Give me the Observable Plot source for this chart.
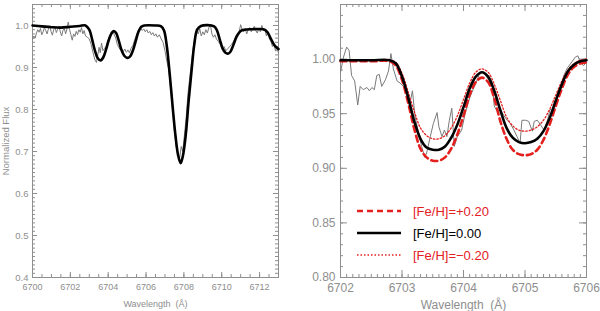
<!DOCTYPE html>
<html><head><meta charset="utf-8">
<script src="https://cdn.jsdelivr.net/npm/d3@7"></script>
<script src="https://cdn.jsdelivr.net/npm/@observablehq/plot@0.6"></script>
<style>
body{margin:0;background:#fff;}
#wrap{position:relative;width:600px;height:311px;display:flex;}
.leg{position:absolute;left:0;top:0;font-family:"Liberation Sans",Arial,sans-serif;font-size:13px;white-space:nowrap;line-height:1;}
</style></head><body><div id="wrap"></div>
<script>
// ---------- Left panel data ----------
const leftModelWl = [6700.0,6700.5,6701.0,6701.5,6702.0,6702.5,6702.8,6703.0,6703.15,6703.3,6703.45,6703.6,6703.75,6703.9,6704.05,6704.2,6704.3,6704.42,6704.55,6704.7,6704.85,6705.0,6705.15,6705.3,6705.45,6705.6,6705.75,6705.9,6706.5,6706.8,6706.95,6707.1,6707.25,6707.4,6707.55,6707.7,6707.83,6707.95,6708.1,6708.25,6708.4,6708.55,6708.7,6708.9,6709.6,6709.75,6709.9,6710.05,6710.2,6710.32,6710.45,6710.6,6710.8,6711.0,6711.2,6711.6,6712.2,6712.4,6712.6,6712.8,6713.0];
const leftModelFlux = [1.000,0.998,0.996,0.995,0.997,0.999,1.000,0.990,0.967,0.940,0.922,0.917,0.925,0.945,0.968,0.983,0.987,0.982,0.965,0.942,0.928,0.923,0.926,0.940,0.962,0.985,0.997,1.000,1.000,0.998,0.988,0.950,0.885,0.810,0.740,0.690,0.672,0.690,0.740,0.820,0.890,0.955,0.990,0.999,0.998,0.988,0.966,0.945,0.935,0.933,0.937,0.952,0.975,0.987,0.990,0.991,0.991,0.985,0.968,0.952,0.944];
const leftObsWl = [6700.00,6700.07,6700.14,6700.21,6700.28,6700.35,6700.42,6700.49,6700.56,6700.63,6700.70,6700.77,6700.84,6700.91,6700.98,6701.05,6701.12,6701.19,6701.26,6701.33,6701.40,6701.47,6701.54,6701.61,6701.68,6701.75,6701.82,6701.89,6701.96,6702.03,6702.10,6702.17,6702.24,6702.31,6702.38,6702.45,6702.52,6702.59,6702.66,6702.73,6702.80,6702.90,6703.00,6703.10,6703.20,6703.30,6703.38,6703.45,6703.52,6703.58,6703.65,6703.72,6703.80,6703.88,6703.96,6704.05,6704.15,6704.25,6704.32,6704.40,6704.48,6704.56,6704.64,6704.72,6704.80,6704.88,6704.96,6705.04,6705.12,6705.20,6705.30,6705.40,6705.50,6705.60,6705.70,6705.80,6705.88,6705.96,6706.04,6706.12,6706.20,6706.28,6706.36,6706.44,6706.52,6706.60,6706.70,6706.80,6706.90,6707.00,6707.10,6707.20,6707.30,6707.40,6707.50,6707.60,6707.70,6707.78,6707.86,6707.94,6708.02,6708.12,6708.22,6708.32,6708.42,6708.52,6708.60,6708.68,6708.76,6708.84,6708.92,6709.00,6709.08,6709.16,6709.24,6709.32,6709.40,6709.48,6709.56,6709.64,6709.72,6709.82,6709.92,6710.02,6710.12,6710.22,6710.32,6710.42,6710.52,6710.62,6710.72,6710.82,6710.92,6711.00,6711.08,6711.16,6711.24,6711.32,6711.40,6711.48,6711.56,6711.64,6711.72,6711.80,6711.88,6711.96,6712.04,6712.12,6712.20,6712.28,6712.36,6712.44,6712.52,6712.60,6712.68,6712.76,6712.84,6712.92,6713.00];
const leftObsFlux = [0.967,0.975,0.970,0.982,0.990,0.984,0.993,0.978,0.985,0.995,0.988,0.980,0.992,0.999,0.986,0.977,0.990,0.996,0.983,0.991,0.998,0.985,0.975,0.988,0.993,0.980,0.992,1.008,0.990,0.978,0.965,0.980,0.974,0.986,0.978,0.990,0.984,0.995,0.980,0.988,0.975,0.972,0.968,0.955,0.935,0.918,0.912,0.930,0.948,0.935,0.958,0.940,0.945,0.950,0.962,0.972,0.980,0.986,0.978,0.970,0.955,0.948,0.942,0.945,0.938,0.944,0.936,0.942,0.935,0.945,0.952,0.966,0.978,0.990,0.994,0.988,0.992,0.985,0.990,0.982,0.986,0.978,0.983,0.975,0.980,0.972,0.978,0.968,0.960,0.940,0.915,0.895,0.850,0.800,0.750,0.710,0.690,0.685,0.712,0.700,0.735,0.780,0.840,0.880,0.920,0.955,0.975,0.988,0.980,0.992,0.975,0.985,0.978,0.990,0.982,0.995,1.002,0.980,0.972,0.978,0.968,0.962,0.955,0.945,0.950,0.940,0.945,0.950,0.955,0.962,0.970,0.978,0.985,1.002,0.990,0.985,0.993,0.980,0.990,0.995,0.985,0.992,0.998,0.988,0.982,0.993,0.985,1.000,0.988,0.992,0.975,0.985,0.968,0.962,0.950,0.955,0.940,0.948,0.935];

// ---------- Right panel data ----------
const rightModelWl = [6702.0,6702.5,6702.8,6702.9,6703.0,6703.1,6703.2,6703.3,6703.4,6703.5,6703.6,6703.7,6703.8,6703.9,6704.0,6704.1,6704.2,6704.3,6704.4,6704.5,6704.6,6704.7,6704.8,6704.9,6705.0,6705.1,6705.2,6705.3,6705.4,6705.5,6705.6,6705.7,6705.8,6705.9,6706.0];
const fluxFeH000 = [0.999,0.999,0.999,0.996,0.984,0.965,0.943,0.927,0.919,0.917,0.917,0.920,0.928,0.940,0.956,0.973,0.984,0.988,0.984,0.971,0.953,0.937,0.928,0.924,0.923,0.924,0.927,0.934,0.946,0.962,0.977,0.989,0.995,0.998,0.999];
const fluxFeHp020 = [0.998,0.998,0.998,0.994,0.981,0.960,0.936,0.918,0.910,0.907,0.907,0.910,0.918,0.931,0.948,0.967,0.979,0.983,0.979,0.964,0.943,0.927,0.917,0.913,0.912,0.913,0.917,0.926,0.940,0.957,0.973,0.986,0.993,0.996,0.997];
const fluxFeHm020 = [0.999,0.999,0.999,0.997,0.987,0.970,0.952,0.937,0.930,0.927,0.927,0.930,0.937,0.948,0.963,0.978,0.988,0.991,0.988,0.977,0.962,0.947,0.939,0.935,0.934,0.935,0.938,0.944,0.954,0.967,0.980,0.990,0.996,0.999,1.000];
const rightObsWl = [6702.00,6702.05,6702.10,6702.14,6702.18,6702.23,6702.28,6702.32,6702.37,6702.43,6702.47,6702.51,6702.55,6702.59,6702.63,6702.67,6702.73,6702.78,6702.82,6702.86,6702.92,6702.97,6703.02,6703.08,6703.13,6703.17,6703.21,6703.27,6703.32,6703.37,6703.40,6703.46,6703.51,6703.57,6703.60,6703.65,6703.69,6703.73,6703.77,6703.81,6703.85,6703.90,6703.97,6704.03,6704.11,6704.20,6704.25,6704.30,6704.36,6704.41,6704.47,6704.50,6704.55,6704.60,6704.66,6704.71,6704.76,6704.82,6704.87,6704.92,6704.95,6705.01,6705.06,6705.12,6705.15,6705.20,6705.25,6705.31,6705.36,6705.41,6705.47,6705.52,6705.58,6705.63,6705.69,6705.77,6705.82,6705.86,6705.90,6705.95,6706.00];
const rightObsFlux = [0.988,1.002,1.011,1.008,0.985,0.980,0.958,0.975,0.972,0.974,0.971,0.974,0.972,0.985,0.986,0.975,0.981,0.989,1.005,0.991,0.980,0.978,0.975,0.972,0.960,0.971,0.948,0.932,0.920,0.910,0.914,0.929,0.941,0.951,0.938,0.929,0.935,0.929,0.944,0.955,0.920,0.929,0.935,0.951,0.966,0.978,0.985,0.988,0.985,0.981,0.975,0.957,0.952,0.954,0.948,0.944,0.941,0.935,0.929,0.923,0.944,0.944,0.943,0.934,0.943,0.944,0.940,0.935,0.943,0.954,0.952,0.965,0.972,0.985,0.992,0.998,1.002,1.003,0.997,0.994,0.997];

// ---------- Ticks ----------
const leftXTicks = [6700,6702,6704,6706,6708,6710,6712];
const leftYTicks = [0.4,0.5,0.6,0.7,0.8,0.9,1.0];
const rightXTicks = [6702,6703,6704,6705,6706];
const rightYTicks = [0.80,0.85,0.90,0.95,1.00];
const legendLabels = ["[Fe/H]=+0.20","[Fe/H]=0.00","[Fe/H]=\u22120.20"];

const GRAY = "#8e8e8e";
const RED = "#e4201f";
const FONT = "'Liberation Sans', Arial, Helvetica, sans-serif";
const W = 300, H = 311, MT = 4, MB = 34;
const FH = H - MT - MB;          // frame height in px

const zipRows = (wl, fl) => wl.map((w, i) => ({w, f: fl[i]}));

// inward ticks on all four sides of the frame
function tickAxes(xMajor, xMinor, yMajor, yMinor, majLen, minLen, FW) {
  const s = {stroke: GRAY, strokeWidth: 1};
  return [
    Plot.tickX(xMinor, {...s, x: d => d, insetTop: FH - minLen}),
    Plot.tickX(xMinor, {...s, x: d => d, insetBottom: FH - minLen}),
    Plot.tickX(xMajor, {...s, x: d => d, insetTop: FH - majLen}),
    Plot.tickX(xMajor, {...s, x: d => d, insetBottom: FH - majLen}),
    Plot.tickY(yMinor, {...s, y: d => d, insetRight: FW - minLen}),
    Plot.tickY(yMinor, {...s, y: d => d, insetLeft: FW - minLen}),
    Plot.tickY(yMajor, {...s, y: d => d, insetRight: FW - majLen}),
    Plot.tickY(yMajor, {...s, y: d => d, insetLeft: FW - majLen}),
    Plot.frame({stroke: GRAY})
  ];
}

const LM = {l: 32, r: 22}, RM = {l: 40, r: 14};

const left = Plot.plot({
  width: W, height: H,
  marginLeft: LM.l, marginRight: LM.r, marginTop: MT, marginBottom: MB,
  style: {color: GRAY, fontFamily: FONT, fontSize: "9px", background: "white"},
  x: {domain: [6700, 6713]},
  y: {domain: [0.4, 1.05]},
  marks: [
    ...tickAxes(leftXTicks, d3.range(6700, 6713.01, 0.5), leftYTicks, d3.range(0.40, 1.0501, 0.01), 5, 3, W - LM.l - LM.r),
    Plot.axisX(leftXTicks, {anchor: "bottom", tickSize: 0, tickPadding: 6, tickFormat: d3.format("d"),
      label: "Wavelength\u00a0\u00a0(\u00c5)", labelAnchor: "center", labelArrow: "none", labelOffset: 29}),
    Plot.axisY(leftYTicks, {anchor: "left", tickSize: 0, tickPadding: 4, tickFormat: d3.format(".1f"), fontSize: "9.5px",
      label: "Normalized Flux", labelAnchor: "center", labelArrow: "none", labelOffset: 30}),
    Plot.line(zipRows(leftObsWl, leftObsFlux), {x: "w", y: "f", stroke: "#7a7a7a", strokeWidth: 1}),
    Plot.line(zipRows(leftModelWl, leftModelFlux), {x: "w", y: "f", stroke: "black", strokeWidth: 2.6, curve: "catmull-rom"})
  ]
});

const right = Plot.plot({
  width: W, height: H,
  marginLeft: RM.l, marginRight: RM.r, marginTop: MT, marginBottom: MB,
  style: {color: GRAY, fontFamily: FONT, fontSize: "12px", background: "white"},
  x: {domain: [6702, 6706]},
  y: {domain: [0.8, 1.05]},
  marks: [
    ...tickAxes(rightXTicks, d3.range(6702, 6706.001, 0.1), rightYTicks, d3.range(0.80, 1.0501, 0.01), 7, 3, W - RM.l - RM.r),
    Plot.axisX(rightXTicks, {anchor: "bottom", tickSize: 0, tickPadding: 6, tickFormat: d3.format("d"),
      label: "Wavelength\u00a0\u00a0(\u00c5)", labelAnchor: "center", labelArrow: "none", labelOffset: 31}),
    Plot.axisY(rightYTicks, {anchor: "left", tickSize: 0, tickPadding: 5, tickFormat: d3.format(".2f"), label: null}),
    Plot.line(zipRows(rightObsWl, rightObsFlux), {x: "w", y: "f", stroke: "#7a7a7a", strokeWidth: 1}),
    Plot.line(zipRows(rightModelWl, fluxFeHm020), {x: "w", y: "f", stroke: RED, strokeWidth: 1.3, strokeDasharray: "1.5,2", curve: "catmull-rom"}),
    Plot.line(zipRows(rightModelWl, fluxFeHp020), {x: "w", y: "f", stroke: RED, strokeWidth: 2.6, strokeDasharray: "6,4", curve: "catmull-rom"}),
    Plot.line(zipRows(rightModelWl, fluxFeH000), {x: "w", y: "f", stroke: "black", strokeWidth: 2.6, curve: "catmull-rom"})
  ]
});

const wrap = document.getElementById("wrap");
wrap.appendChild(left);
wrap.appendChild(right);

// Legend (inside right panel)
const legStyles = [
  {stroke: RED, width: 2.6, dash: "6,4", color: RED},
  {stroke: "black", width: 2.6, dash: "none", color: "black"},
  {stroke: RED, width: 1.3, dash: "1.5,2", color: RED}
];
const legY = [211, 233, 255];
legendLabels.forEach((lab, i) => {
  const s = legStyles[i];
  const d = document.createElement("div");
  d.className = "leg";
  d.style.transform = `translate(357px, ${legY[i] - 8}px)`;
  d.innerHTML = `<svg width="46" height="16" style="vertical-align:middle"><line x1="0" x2="44" y1="8" y2="8" stroke="${s.stroke}" stroke-width="${s.width}" stroke-dasharray="${s.dash}"/></svg><span style="color:${s.color};margin-left:10px;vertical-align:middle">${lab}</span>`;
  wrap.appendChild(d);
});
</script>
</body></html>
